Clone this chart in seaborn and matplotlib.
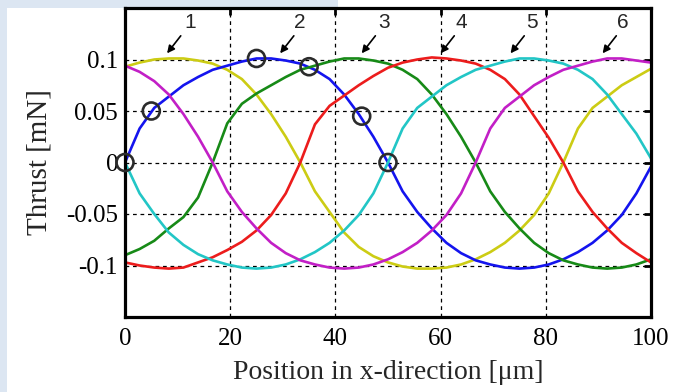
import matplotlib
matplotlib.use("Agg")
import matplotlib.pyplot as plt
from matplotlib.patches import Rectangle
import seaborn as sns
import pandas as pd

# Sampling positions along x [um]
position_um = [0, 2.78, 5.56, 8.33, 11.11, 13.89, 16.67, 19.44, 22.22, 25, 27.78, 30.56,
               33.33, 36.11, 38.89, 41.67, 44.44, 47.22, 50, 52.78, 55.56, 58.33, 61.11,
               63.89, 66.67, 69.44, 72.22, 75, 77.78, 80.56, 83.33, 86.11, 88.89, 91.67,
               94.44, 97.22, 100]

# Thrust of each electrode phase [mN]
thrust_1 = [0.093, 0.097, 0.100, 0.101, 0.101, 0.099, 0.096, 0.090, 0.081, 0.066, 0.047, 0.025,
            0.000, -0.028, -0.048, -0.068, -0.082, -0.091, -0.097, -0.101, -0.103, -0.103,
            -0.102, -0.099, -0.094, -0.087, -0.078, -0.066, -0.051, -0.030, 0.000, 0.033,
            0.053, 0.064, 0.075, 0.083, 0.091]
thrust_2 = [0.000, 0.033, 0.053, 0.064, 0.075, 0.083, 0.090, 0.094, 0.098, 0.101, 0.101, 0.099,
            0.096, 0.090, 0.081, 0.066, 0.047, 0.025, 0.000, -0.028, -0.048, -0.064, -0.078,
            -0.088, -0.095, -0.099, -0.102, -0.103, -0.102, -0.099, -0.094, -0.087, -0.078,
            -0.066, -0.051, -0.030, -0.004]
thrust_3 = [-0.090, -0.084, -0.076, -0.064, -0.053, -0.034, 0.000, 0.038, 0.057, 0.067, 0.075,
            0.083, 0.090, 0.094, 0.098, 0.101, 0.101, 0.099, 0.096, 0.090, 0.081, 0.066, 0.047,
            0.025, 0.000, -0.028, -0.048, -0.064, -0.078, -0.088, -0.095, -0.099, -0.102,
            -0.103, -0.102, -0.099, -0.094]
thrust_4 = [-0.097, -0.100, -0.102, -0.103, -0.102, -0.097, -0.092, -0.085, -0.077, -0.066,
            -0.051, -0.030, 0.000, 0.037, 0.055, 0.065, 0.075, 0.084, 0.092, 0.097, 0.100,
            0.102, 0.101, 0.099, 0.096, 0.090, 0.081, 0.066, 0.045, 0.024, 0.000, -0.028,
            -0.048, -0.064, -0.078, -0.088, -0.097]
thrust_5 = [0.000, -0.030, -0.050, -0.068, -0.080, -0.089, -0.095, -0.099, -0.102, -0.103,
            -0.102, -0.099, -0.094, -0.087, -0.078, -0.066, -0.051, -0.030, 0.000, 0.033,
            0.053, 0.064, 0.075, 0.083, 0.090, 0.094, 0.098, 0.101, 0.101, 0.099, 0.096,
            0.090, 0.081, 0.066, 0.047, 0.028, 0.004]
thrust_6 = [0.094, 0.088, 0.079, 0.066, 0.047, 0.025, 0.000, -0.028, -0.048, -0.064, -0.078,
            -0.088, -0.095, -0.099, -0.102, -0.103, -0.102, -0.099, -0.094, -0.087, -0.078,
            -0.066, -0.051, -0.030, 0.000, 0.033, 0.053, 0.064, 0.075, 0.083, 0.090, 0.094,
            0.098, 0.101, 0.101, 0.099, 0.097]

phase_names = ["1", "2", "3", "4", "5", "6"]
phase_colors = ["#cccc14", "#1414ee", "#178a17", "#ec1c1c", "#22c6c6", "#c21fc6"]

# Marked operating points on phase 2
marker_x = [0, 5, 25, 35, 45, 50]
marker_y = [0.000, 0.050, 0.101, 0.093, 0.045, 0.000]

# Phase number labels and their arrows (label pos, arrow tail, arrow tip)
label_x = [12.3, 33.3, 49.2, 64.0, 77.3, 94.6]
label_y = 0.136
arrow_tip_x = [8.0, 29.5, 45.0, 60.0, 73.3, 90.8]
arrow_tail_dx = 2.6
arrow_tip_y = 0.106
arrow_tail_y = 0.123

x_ticks = [0, 20, 40, 60, 80, 100]
y_ticks = [-0.1, -0.05, 0, 0.05, 0.1]
y_tick_labels = ["-0.1", "-0.05", "0", "0.05", "0.1"]

series = [thrust_1, thrust_2, thrust_3, thrust_4, thrust_5, thrust_6]
frames = [pd.DataFrame({"position": position_um, "thrust": vals, "phase": name})
          for name, vals in zip(phase_names, series)]
df = pd.concat(frames, ignore_index=True)

sns.set_style("white")
plt.rcParams["font.family"] = ["Liberation Serif", "DejaVu Serif"]

fig = plt.figure(figsize=(6.74, 3.92), dpi=100)
fig.patch.set_facecolor("white")
# light page strips around the figure
fig.patches.append(Rectangle((0, 0), 7 / 674, 1, transform=fig.transFigure,
                             facecolor="#dce6f2", edgecolor="none", zorder=-1))
fig.patches.append(Rectangle((0, 1 - 8 / 392), 338 / 674, 8 / 392, transform=fig.transFigure,
                             facecolor="#dce6f2", edgecolor="none", zorder=-1))

ax = fig.add_axes([125 / 674, 1 - 317 / 392, 526 / 674, 309 / 392])

sns.lineplot(data=df, x="position", y="thrust", hue="phase",
             palette=dict(zip(phase_names, phase_colors)),
             estimator=None, sort=False, lw=1.9, legend=False, ax=ax)

sns.scatterplot(x=marker_x, y=marker_y, marker="o", s=150, color="none",
                edgecolor="#2b2b2b", linewidth=1.9, ax=ax, zorder=6, clip_on=False)

for name, lx, tx in zip(phase_names, label_x, arrow_tip_x):
    ax.text(lx, label_y, name, ha="center", va="center", fontsize=15,
            family=["Liberation Sans", "DejaVu Sans"])
    ax.annotate("", xy=(tx, arrow_tip_y), xytext=(tx + arrow_tail_dx, arrow_tail_y),
                arrowprops=dict(arrowstyle="-|>", color="black", lw=1.2,
                                mutation_scale=11, shrinkA=0, shrinkB=0))

ax.set_xlim(0, 100)
ax.set_ylim(-0.15, 0.15)
ax.set_xticks(x_ticks)
ax.set_xticklabels([str(t) for t in x_ticks])
ax.set_yticks(y_ticks)
ax.set_yticklabels(y_tick_labels)
ax.grid(True, color="black", linestyle=(0, (3, 3)), lw=0.9)
ax.tick_params(direction="in", length=5, width=2, top=True, right=True,
               labelsize=18, colors="black")
ax.tick_params(axis="x", pad=8)
ax.tick_params(axis="y", pad=5)
for sp in ax.spines.values():
    sp.set_linewidth(2.3)
    sp.set_color("black")

ax.set_xlabel("Position in x-direction [\u03bcm]", fontsize=20, labelpad=7)
ax.set_ylabel("Thrust [mN]", fontsize=21, labelpad=10)

fig.savefig("out.png", dpi=100)
